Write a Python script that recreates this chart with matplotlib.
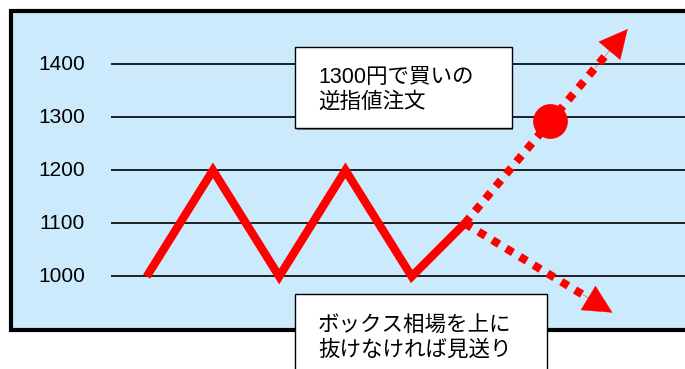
import matplotlib
matplotlib.use('Agg')
import matplotlib.pyplot as plt
from matplotlib.patches import Rectangle, FancyArrowPatch

plt.rcParams['font.family'] = ['Liberation Sans', 'Noto Sans CJK JP', 'DejaVu Sans']

# price levels and the box-range zigzag
levels = [1000, 1100, 1200, 1300, 1400]
zig_x = [0, 1, 2, 3, 4, 4.8]
zig_y = [1000, 1200, 1000, 1200, 1000, 1100]
# breakout scenarios (end points of dotted arrows)
up_end = (7.26, 1466)
down_end = (7.03, 932)
# stop order marker
order_x, order_y = 6.09, 1292

note_up = '1300円で買いの\n逆指値注文'
note_down = 'ボックス相場を上に\n抜けなければ見送り'

W, H = 685, 369
fig = plt.figure(figsize=(W / 100, H / 100), dpi=100)
ax = fig.add_axes([0, 0, 1, 1])
ax.set_xlim(-2.214, 8.125)
ax.set_ylim(825.8, 1520.7)
ax.axis('off')

def fx(px):
    return px / W

def fy(py):
    return 1 - py / H

red = '#ff0000'

# panel
ax.add_patch(Rectangle((fx(10.5), fy(330)), fx(700), fy(10.5) - fy(330),
                       transform=fig.transFigure, facecolor='#cbebfd',
                       edgecolor='black', lw=3.0, zorder=0))

# gridlines + labels
ax.hlines(levels, -0.54, 8.3, colors='#111111', lw=1.3, zorder=1)
for lv in levels:
    ax.text(-0.93, lv, str(lv), ha='right', va='center', fontsize=15, zorder=2)

# zigzag
ax.plot(zig_x, zig_y, color=red, lw=6.0, solid_joinstyle='miter',
        solid_capstyle='butt', zorder=3)

# dotted breakout arrows
for end in [up_end, down_end]:
    sx, sy = zig_x[-1], zig_y[-1]
    ex, ey = end
    ax.plot([sx, sx + (ex - sx) * 0.9], [sy, sy + (ey - sy) * 0.9], color=red, lw=5.8,
            dashes=(1.0, 1.0), dash_capstyle='butt', zorder=3)
    ax.add_patch(FancyArrowPatch((sx + (ex - sx) * 0.8, sy + (ey - sy) * 0.8), (ex, ey),
                                 arrowstyle='-|>,head_length=2.0,head_width=1.0',
                                 mutation_scale=10, color=red, lw=0.3, shrinkA=0, shrinkB=0,
                                 zorder=3))

# order marker
ax.plot([order_x], [order_y], 'o', color=red, ms=24, mec=red, zorder=4)

# note boxes
for (x0, y0, x1, y1), txt, tyc in [((295, 46.7, 511.7, 128), note_up, 90),
                                  ((295, 294, 546.7, 400), note_down, 338)]:
    ax.add_patch(Rectangle((fx(x0 + 1.5), fy(y1 + 1.5)), fx(x1 - x0), fy(y0) - fy(y1),
                           transform=fig.transFigure, facecolor='#808080',
                           edgecolor='none', zorder=5))
    ax.add_patch(Rectangle((fx(x0), fy(y1)), fx(x1 - x0), fy(y0) - fy(y1),
                           transform=fig.transFigure, facecolor='white',
                           edgecolor='black', lw=1.0, zorder=6))
    ax.text(fx(318), fy(tyc), txt, transform=fig.transFigure, ha='left', va='center',
            fontsize=15.5, linespacing=1.2, zorder=7)

fig.savefig('out.png', dpi=100)
